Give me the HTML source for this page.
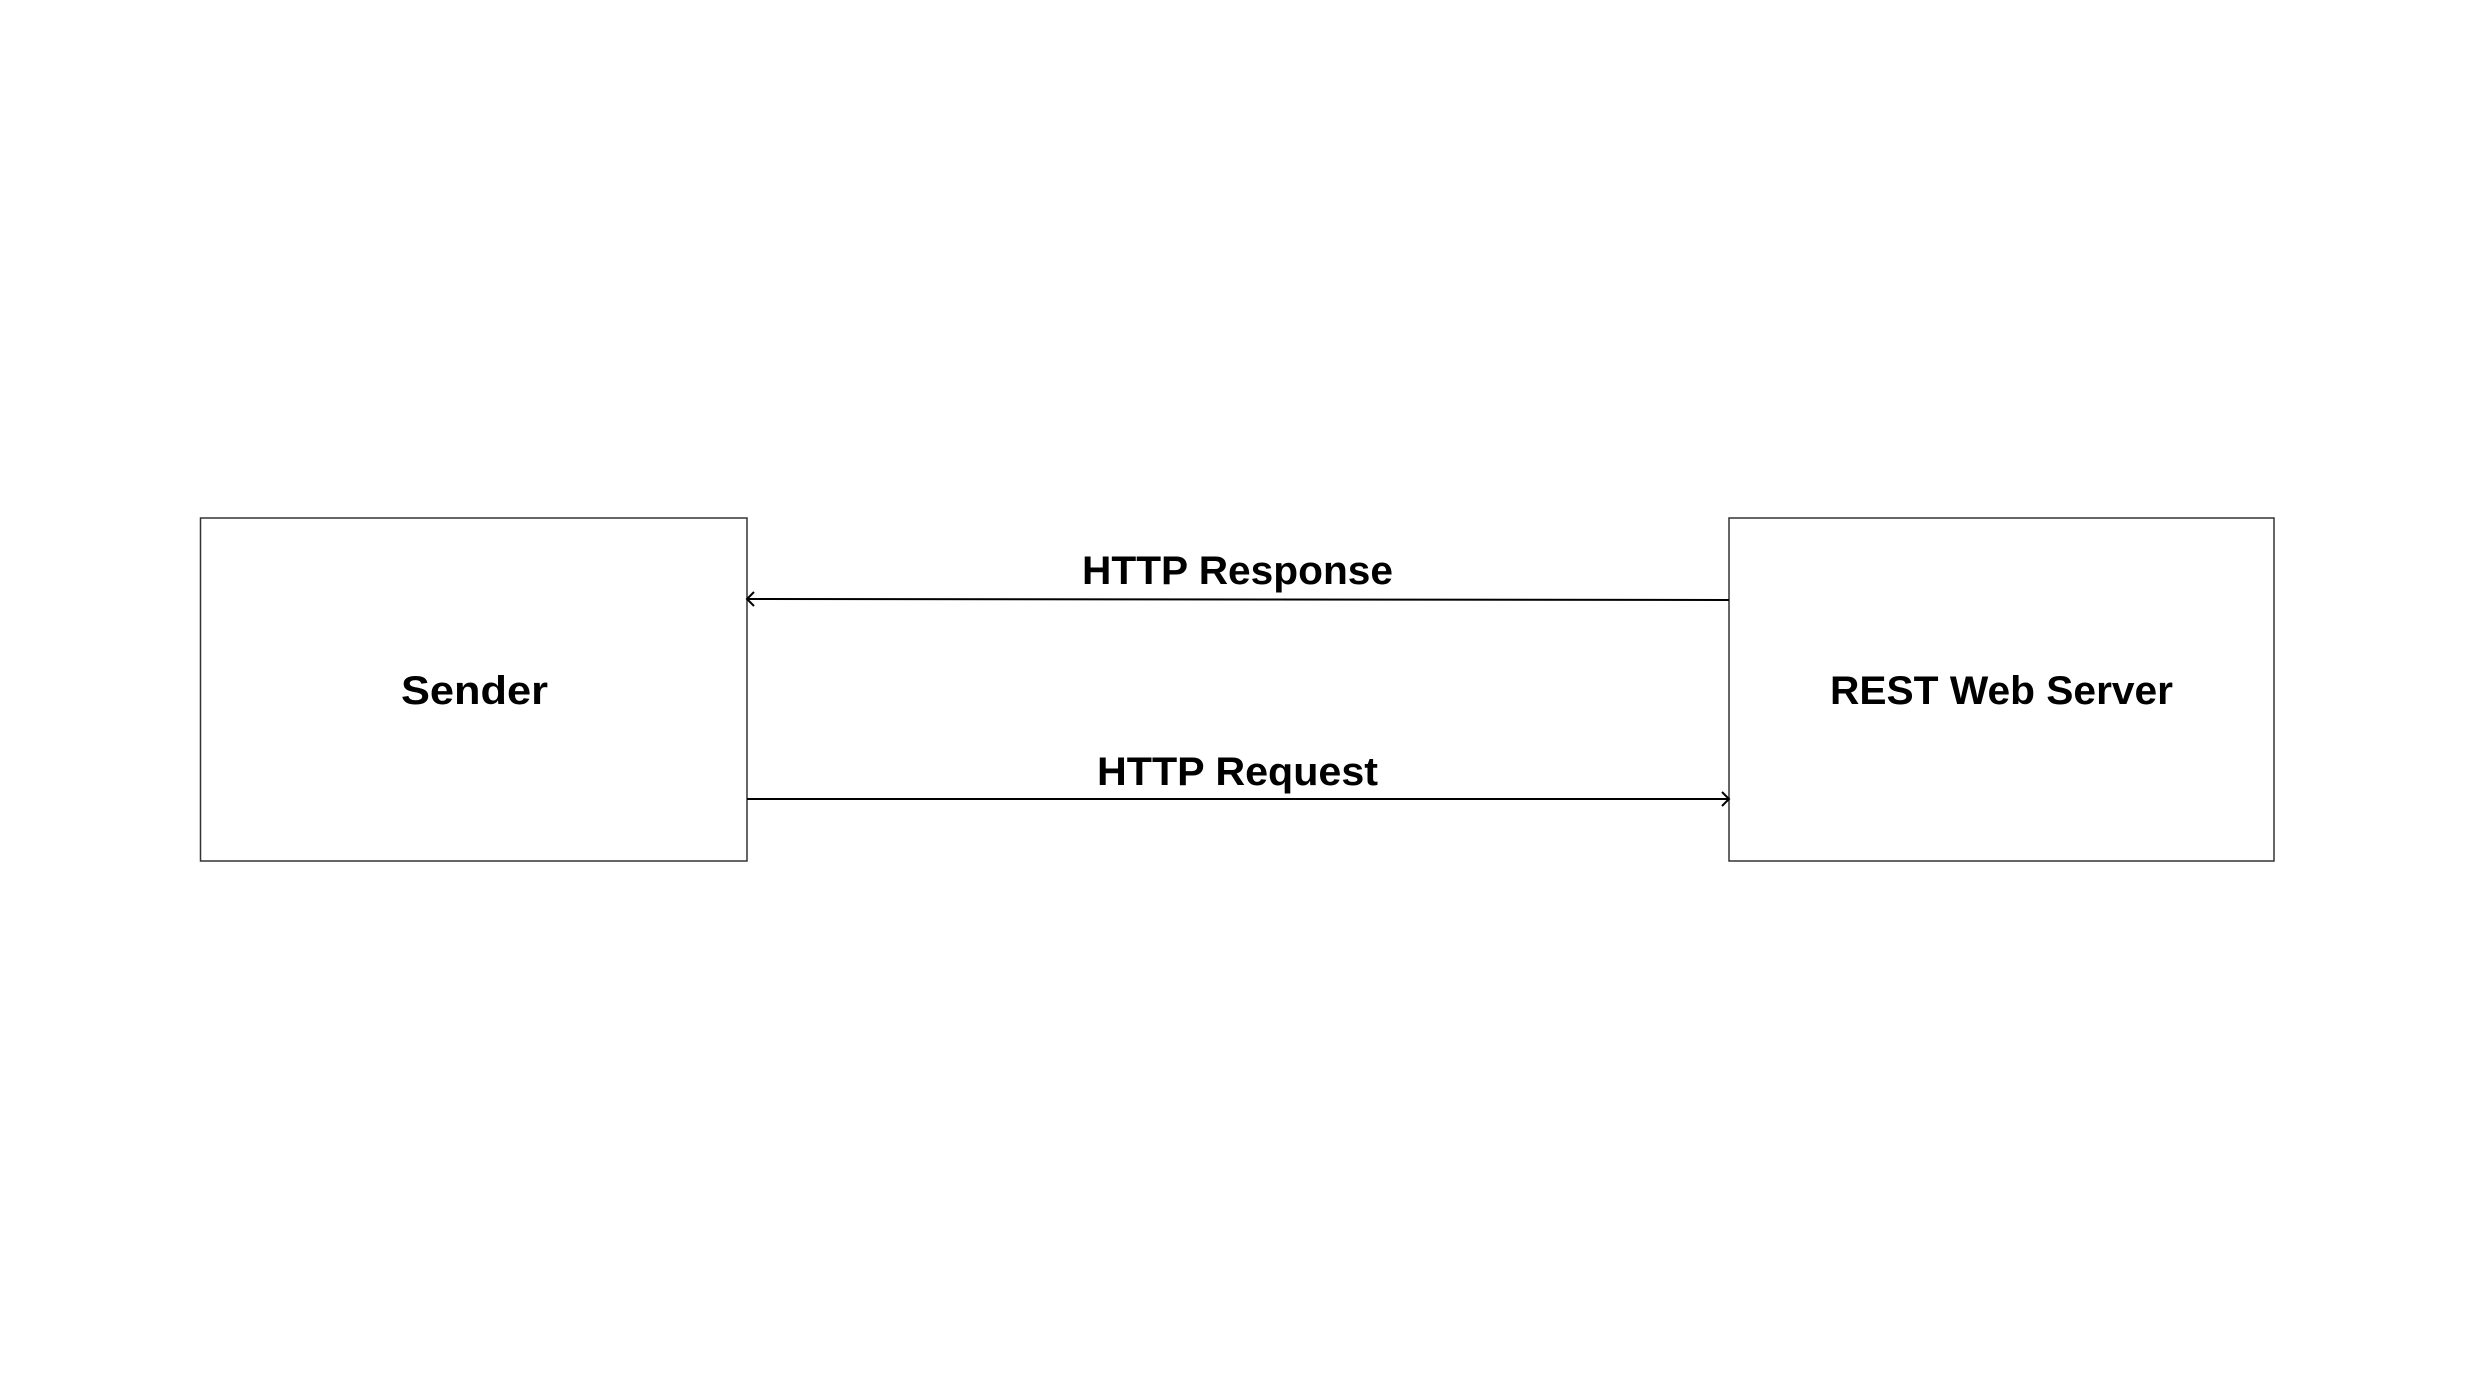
<!DOCTYPE html>
<html><head><meta charset="utf-8"><style>html,body{margin:0;padding:0;background:#fff}</style></head>
<body>
<svg width="2475" height="1380" viewBox="0 0 2475 1380" xmlns="http://www.w3.org/2000/svg" style="display:block">
<rect width="2475" height="1380" fill="#fff"/>
<rect x="200.5" y="518" width="546.5" height="343" fill="none" stroke="#333" stroke-width="1.5"/>
<rect x="1729" y="518" width="545" height="343" fill="none" stroke="#333" stroke-width="1.5"/>
<g font-family="Liberation Sans, sans-serif" font-weight="bold" font-size="40" fill="#000">
<text x="401" y="704" textLength="147" lengthAdjust="spacingAndGlyphs">Sender</text>
<text x="1830" y="704" textLength="343" lengthAdjust="spacingAndGlyphs">REST Web Server</text>
<text x="1082" y="584" textLength="311" lengthAdjust="spacingAndGlyphs">HTTP Response</text>
<text x="1097" y="785" textLength="281" lengthAdjust="spacingAndGlyphs">HTTP Request</text>
</g>
<g stroke="#000" stroke-width="2" fill="none">
<line x1="1729" y1="600" x2="747" y2="599"/>
<polyline points="754,592 747,599 754,606"/>
<line x1="747" y1="799" x2="1729" y2="799"/>
<polyline points="1722,792 1729,799 1722,806"/>
</g>
</svg>
</body></html>
